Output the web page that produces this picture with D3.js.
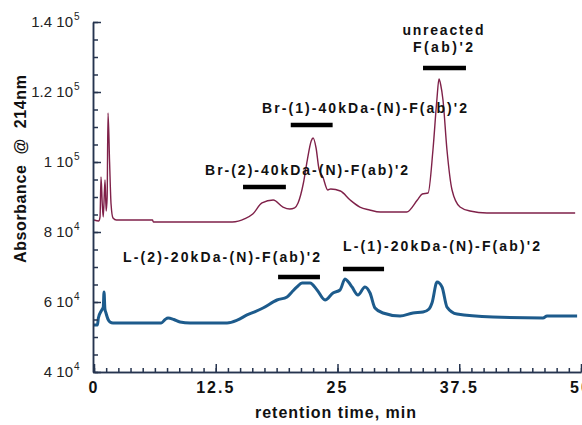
<!DOCTYPE html>
<html>
<head>
<meta charset="utf-8">
<script src="https://cdn.jsdelivr.net/npm/d3@7"></script>
<style>
  body { margin: 0; background: #fff; }
  svg { display: block; font-family: "Liberation Sans", Arial, sans-serif; }
</style>
</head>
<body>
<svg id="chart" width="582" height="425"></svg>
<script>
// retention time (min) vs absorbance
const topTrace = [
  [0, 83430], [0.5, 83140], [0.62, 84300], [0.72, 95700], [0.85, 88000], [0.95, 84300],
  [1.13, 94860], [1.25, 86000], [1.35, 90000], [1.44, 114000], [1.6, 100000], [1.75, 88000],
  [1.95, 84000], [2.3, 83430], [6.0, 83430], [6.1, 82860], [14.2, 82860], [15.5, 83800],
  [16.3, 85140], [17.25, 88290], [18.4, 89140], [19.4, 87140], [20.1, 86570], [20.6, 86900],
  [20.95, 88290], [21.5, 94000], [21.9, 100570], [22.3, 106000], [22.5, 106860], [22.8, 104000],
  [23.1, 98000], [23.5, 95700], [24.0, 92000], [24.3, 92290], [25.3, 91710], [26.3, 89140],
  [27.3, 87140], [28.3, 86300], [29.4, 85710], [32.1, 85710], [33.2, 89140], [33.7, 90860],
  [34.3, 91140], [34.8, 103430], [35.2, 117710], [35.42, 123710], [35.6, 122000], [35.83, 117710],
  [36.24, 103430], [36.76, 92000], [37.58, 87140], [38.6, 86000], [40.35, 85430], [49.4, 85430]
];

const bottomTrace = [
  [0, 53430], [0.35, 53430], [0.45, 55430], [0.8, 57710], [0.95, 58500], [1.03, 62860],
  [1.12, 58000], [1.23, 56860], [1.45, 55000], [1.64, 54290], [1.95, 54000], [6.9, 54000],
  [7.3, 55000], [7.6, 55430], [8.2, 55000], [8.83, 54290], [9.86, 54000], [13.66, 54000],
  [14.7, 54800], [15.71, 56290], [16.5, 57200], [17.35, 58290], [18.79, 60570], [19.82, 61430],
  [20.3, 62800], [20.84, 64290], [21.36, 65430], [22.18, 65430], [22.9, 63430], [23.72, 60570],
  [24.54, 62570], [25.26, 63430], [25.77, 66570], [26.1, 65800], [26.49, 64290], [27.1, 62000],
  [27.82, 64290], [28.34, 62570], [28.85, 58290], [29.67, 56860], [31.42, 56000], [32.75, 56860],
  [33.78, 57140], [34.4, 58000], [34.7, 59710], [35.22, 65710], [35.73, 64290], [36.24, 58570],
  [37.27, 56570], [40.97, 55710], [46.1, 55430], [46.51, 56000], [49.6, 56000]
];

const xMajorTicks = [0, 12.5, 25, 37.5, 50];
const xTickLabels = ["0", "12.5", "25", "37.5", "50"];
const yMajorTicks = [40000, 60000, 80000, 100000, 120000, 140000];
const yTickMantissa = ["4", "6", "8", "1", "1.2", "1.4"];
const yTickExponent = ["4", "4", "4", "5", "5", "5"];

// peak labels: text, x start / centre (min), baseline (absorbance), bar from x0 to x1 at barY
const peakLabels = ["unreacted", "F(ab)'2", "Br-(1)-40kDa-(N)-F(ab)'2", "Br-(2)-40kDa-(N)-F(ab)'2",
  "L-(2)-20kDa-(N)-F(ab)'2", "L-(1)-20kDa-(N)-F(ab)'2"];
const peakLabelX = [35.83, 35.83, 17.25, 11.4, 2.98, 25.56];
const peakLabelY = [136286, 131429, 114000, 96286, 71429, 74571];
const peakLabelWidth = [81, 60, 205, 203, 197, 197];
const peakBars = [
  [33.78, 38.19, 126857],
  [20.2, 24.5, 110571],
  [15.3, 19.7, 92857],
  [18.9, 23.2, 67143],
  [25.56, 29.78, 69429]
];

const svg = d3.select('#chart');
const x = d3.scaleLinear().domain([0, 50]).range([94, 581]);
const y = d3.scaleLinear().domain([40000, 140000]).range([372, 22]);
const axisColor = '#26344f';

// traces
const line = d3.line().x(d => x(d[0])).y(d => y(d[1])).curve(d3.curveMonotoneX);
svg.append('path').datum(topTrace)
  .attr('d', line).attr('fill', 'none')
  .attr('stroke', '#7f2149').attr('stroke-width', 1.4).attr('stroke-linejoin', 'round');
svg.append('path').datum(bottomTrace)
  .attr('d', line).attr('fill', 'none')
  .attr('stroke', '#1d5b8c').attr('stroke-width', 3).attr('stroke-linejoin', 'round');

// y axis, ticks pointing inward
const yMinor = d3.range(40000, 140001, 5000);
svg.append('g').attr('transform', `translate(${x(0) - 1},0)`)
  .call(d3.axisRight(y).tickValues(yMinor).tickSize(5).tickFormat('').tickSizeOuter(0));
svg.append('g').attr('transform', `translate(${x(0) - 1},0)`)
  .call(d3.axisRight(y).tickValues(yMajorTicks).tickSize(8).tickFormat('').tickSizeOuter(0));

// x axis, ticks pointing up
const xMinor = d3.range(0, 50.01, 1.25);
svg.append('g').attr('transform', `translate(0,${y(40000)})`)
  .call(d3.axisTop(x).tickValues(xMinor).tickSize(4).tickFormat('').tickSizeOuter(0));
svg.append('g').attr('transform', `translate(0,${y(40000)})`)
  .call(d3.axisTop(x).tickValues(xMajorTicks).tickSize(8).tickFormat('').tickSizeOuter(0));

svg.selectAll('.domain, .tick line').attr('stroke', axisColor).attr('stroke-width', 1.5);

// y tick labels with superscript exponent
svg.append('g').selectAll('text').data(yMajorTicks).join('text')
  .attr('x', 73).attr('y', d => y(d) + 5)
  .attr('text-anchor', 'end').attr('font-size', 15).attr('fill', '#222')
  .text((d, i) => yTickMantissa[i] + ' 10');
svg.append('g').selectAll('text').data(yMajorTicks).join('text')
  .attr('x', 74).attr('y', d => y(d) - 2)
  .attr('font-size', 10).attr('fill', '#222')
  .text((d, i) => yTickExponent[i]);

// x tick labels (the 50 runs off the right edge, as in the original)
svg.append('g').selectAll('text').data(xMajorTicks).join('text')
  .attr('x', d => x(d)).attr('y', 393)
  .attr('text-anchor', 'middle').attr('font-size', 16).attr('font-weight', 'bold')
  .attr('letter-spacing', 2).attr('fill', '#111')
  .text((d, i) => xTickLabels[i]);

// axis titles
svg.append('text').attr('x', 336).attr('y', 418).attr('text-anchor', 'middle')
  .attr('font-size', 16).attr('font-weight', 'bold').attr('letter-spacing', 1).attr('fill', '#111')
  .text('retention time, min');
svg.append('text').attr('transform', 'translate(26,169) rotate(-90)').attr('text-anchor', 'middle')
  .attr('font-size', 16).attr('font-weight', 'bold').attr('fill', '#111')
  .attr('textLength', 188).attr('lengthAdjust', 'spacing')
  .style('white-space', 'pre')
  .text('Absorbance  @  214nm');

// peak annotations
svg.append('g').selectAll('text').data(peakLabels).join('text')
  .attr('x', (d, i) => i < 2 ? x(peakLabelX[i]) - peakLabelWidth[i] / 2 : x(peakLabelX[i]))
  .attr('y', (d, i) => y(peakLabelY[i]))
  .attr('font-size', 14).attr('font-weight', 'bold').attr('fill', '#111')
  .attr('textLength', (d, i) => peakLabelWidth[i]).attr('lengthAdjust', 'spacing')
  .text(d => d);

svg.append('g').selectAll('line').data(peakBars).join('line')
  .attr('x1', d => x(d[0])).attr('x2', d => x(d[1]))
  .attr('y1', d => y(d[2])).attr('y2', d => y(d[2]))
  .attr('stroke', '#000').attr('stroke-width', 4.5);
</script>
</body>
</html>
